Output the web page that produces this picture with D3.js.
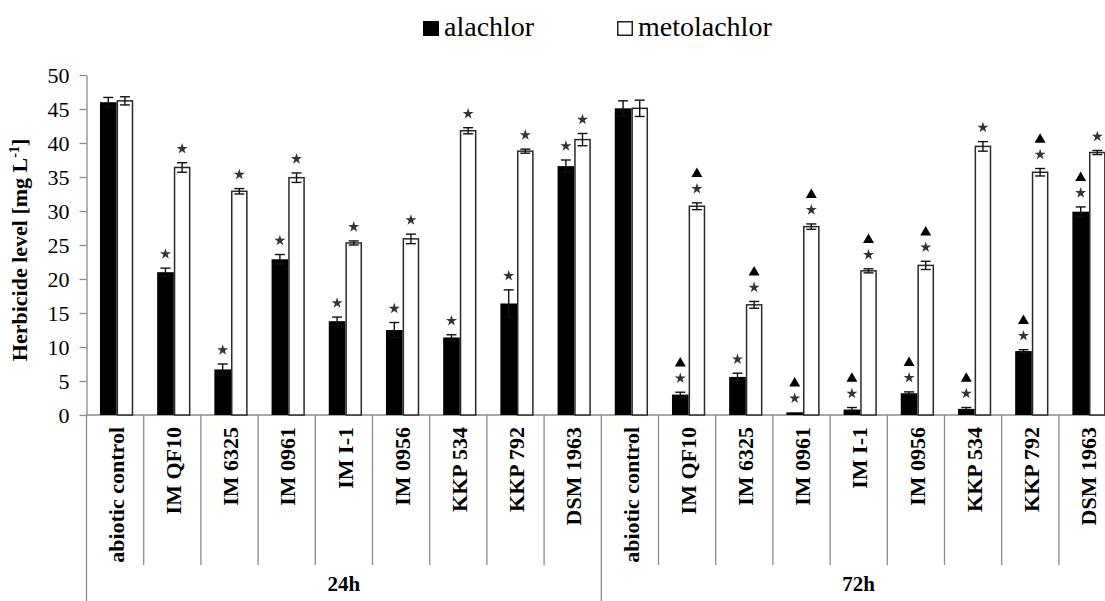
<!DOCTYPE html>
<html>
<head>
<meta charset="utf-8">
<script src="https://cdn.jsdelivr.net/npm/d3@7"></script>
<style>
  html, body { margin: 0; padding: 0; background: #fff; }
  svg { display: block; }
  svg text { font-family: "Liberation Serif", "Times New Roman", Times, "DejaVu Serif", serif; fill: #000; }
</style>
</head>
<body>
<svg id="chart" width="1105" height="601"></svg>
<script>
// Strains and sampling times
const categories = ["abiotic control", "IM QF10", "IM 6325", "IM 0961", "IM I-1", "IM 0956", "KKP 534", "KKP 792", "DSM 1963"];
const timePoints = ["24h", "72h"];
const seriesNames = ["alachlor", "metolachlor"];

// Residual herbicide level [mg L-1] with error bars
const alachlor24 = [46.0, 21.0, 6.7, 22.9, 13.8, 12.5, 11.4, 16.4, 36.6];
const alachlor24Err = [0.7, 0.6, 0.8, 0.7, 0.6, 1.1, 0.4, 2.0, 0.9];
const metolachlor24 = [46.2, 36.4, 32.9, 34.9, 25.3, 25.9, 41.8, 38.8, 40.5];
const metolachlor24Err = [0.6, 0.7, 0.4, 0.7, 0.3, 0.7, 0.45, 0.3, 0.9];
const alachlor72 = [45.1, 3.0, 5.6, 0.4, 0.8, 3.2, 0.9, 9.4, 29.9];
const alachlor72Err = [1.1, 0.35, 0.55, 0.0, 0.3, 0.2, 0.2, 0.2, 0.7];
const metolachlor72 = [45.1, 30.7, 16.2, 27.7, 21.2, 22.0, 39.5, 35.7, 38.6];
const metolachlor72Err = [1.2, 0.5, 0.5, 0.4, 0.3, 0.6, 0.7, 0.55, 0.3];

// Significance marks: "*" vs. abiotic control, "^" between 24h and 72h
const alachlor24Sig = ["", "*", "*", "*", "*", "*", "*", "*", "*"];
const metolachlor24Sig = ["", "*", "*", "*", "*", "*", "*", "*", "*"];
const alachlor72Sig = ["", "*^", "*", "*^", "*^", "*^", "*^", "*^", "*^"];
const metolachlor72Sig = ["", "*^", "*^", "*^", "*^", "*^", "*", "*^", "*"];

// Axis ticks
const yTicks = [0, 5, 10, 15, 20, 25, 30, 35, 40, 45, 50];

// Table built from the arrays above
const seriesTable = {
  "24h": { alachlor: [alachlor24, alachlor24Err, alachlor24Sig], metolachlor: [metolachlor24, metolachlor24Err, metolachlor24Sig] },
  "72h": { alachlor: [alachlor72, alachlor72Err, alachlor72Sig], metolachlor: [metolachlor72, metolachlor72Err, metolachlor72Sig] }
};
const rows = [];
timePoints.forEach(t => categories.forEach((c, i) => {
  seriesNames.forEach(s => {
    const [v, e, g] = seriesTable[t][s];
    rows.push({ key: t + "|" + c, time: t, cat: c, series: s, value: v[i], err: e[i], sig: g[i] });
  });
}));
const keys = [];
timePoints.forEach(t => categories.forEach(c => keys.push(t + "|" + c)));

const svg = d3.select("#chart");
const serif = "'Liberation Serif', 'Times New Roman', Times, 'DejaVu Serif', serif";
const axisColor = "#8a8a8a";
const plotLeft = 86.5, step = 57.2;
const plotTop = 75, plotBottom = 415;

const x0 = d3.scaleBand().domain(keys).range([plotLeft, plotLeft + step * keys.length]).padding(0);
const x1 = d3.scaleBand().domain(seriesNames).range([1.5, x0.bandwidth() + 1.5]).paddingInner(0).paddingOuter(0.72);
const y = d3.scaleLinear().domain([0, 50]).range([plotBottom, plotTop]);

// Y axis
const yAxis = svg.append("g")
  .attr("transform", `translate(${plotLeft},0)`)
  .call(d3.axisLeft(y).tickValues(yTicks).tickSize(7).tickPadding(10).tickSizeOuter(0))
  .attr("font-family", serif);
yAxis.select(".domain").attr("stroke", axisColor).attr("stroke-width", 1.3);
yAxis.selectAll(".tick line").attr("stroke", axisColor).attr("stroke-width", 1.3);
yAxis.selectAll(".tick text")
  .attr("font-family", serif)
  .attr("font-size", 22)
  .attr("fill", "#111");

// Y title
const yTitle = svg.append("text")
  .attr("transform", "translate(27,250) rotate(-90)")
  .attr("text-anchor", "middle")
  .attr("font-family", serif)
  .attr("font-weight", "bold")
  .attr("font-size", 22);
yTitle.append("tspan").text("Herbicide level [mg L");
yTitle.append("tspan").attr("font-size", 14).attr("dy", -8).text("-1");
yTitle.append("tspan").attr("dy", 8).text("]");

// Category axis baseline
svg.append("line")
  .attr("x1", plotLeft).attr("x2", x0.range()[1])
  .attr("y1", plotBottom).attr("y2", plotBottom)
  .attr("stroke", axisColor).attr("stroke-width", 1.3);

// Category separators (short) and group separators (long)
const boundaries = d3.range(keys.length + 1).map(i => plotLeft + i * step);
svg.append("g").selectAll("line")
  .data(boundaries)
  .join("line")
  .attr("x1", d => d).attr("x2", d => d)
  .attr("y1", plotBottom)
  .attr("y2", (d, i) => (i % categories.length === 0) ? 601 : 565)
  .attr("stroke", axisColor).attr("stroke-width", 1.3);

// Category labels
svg.append("g").selectAll("text")
  .data(keys)
  .join("text")
  .attr("transform", d => `translate(${x0(d) + x0.bandwidth() / 2 + 1},427) rotate(-90)`)
  .attr("text-anchor", "end")
  .attr("dy", "0.35em")
  .attr("font-family", serif)
  .attr("font-weight", "bold")
  .attr("font-size", 22)
  .text(d => d.split("|")[1]);

// Group labels
svg.append("g").selectAll("text")
  .data(timePoints)
  .join("text")
  .attr("x", t => (x0(t + "|" + categories[0]) + x0(t + "|" + categories[categories.length - 1]) + x0.bandwidth()) / 2)
  .attr("y", 591)
  .attr("text-anchor", "middle")
  .attr("font-family", serif)
  .attr("font-weight", "bold")
  .attr("font-size", 21)
  .text(t => t);

// Bars
const barX = d => x0(d.key) + x1(d.series);
svg.append("g").selectAll("rect")
  .data(rows)
  .join("rect")
  .attr("x", d => barX(d) + (d.series === "metolachlor" ? 0.75 : 0))
  .attr("y", d => y(d.value))
  .attr("width", d => x1.bandwidth() - (d.series === "metolachlor" ? 1.5 : 0))
  .attr("height", d => y(0) - y(d.value))
  .attr("fill", d => d.series === "alachlor" ? "#000" : "#fff")
  .attr("stroke", d => d.series === "alachlor" ? "none" : "#2a2a2a")
  .attr("stroke-width", 1.5);

// Error bars
const eb = svg.append("g").attr("stroke", "#111").attr("stroke-width", 1.4);
rows.filter(d => d.err > 0).forEach(d => {
  const cx = barX(d) + x1.bandwidth() / 2;
  const yt = y(d.value + d.err), yb = y(d.value - d.err);
  eb.append("line").attr("x1", cx).attr("x2", cx).attr("y1", yt).attr("y2", yb);
  eb.append("line").attr("x1", cx - 5).attr("x2", cx + 5).attr("y1", yt).attr("y2", yt);
  eb.append("line").attr("x1", cx - 5).attr("x2", cx + 5).attr("y1", yb).attr("y2", yb);
});

// Significance marks
const marks = svg.append("g");
const star = d3.symbol().type(d3.symbolStar).size(38);
const tri = d3.symbol().type(d3.symbolTriangle).size(52);
rows.filter(d => d.sig).forEach(d => {
  const cx = barX(d) + x1.bandwidth() / 2;
  const sy = y(d.value + d.err) - 14;
  if (d.sig.includes("*")) {
    marks.append("path").attr("d", star()).attr("transform", `translate(${cx},${sy})`).attr("fill", "#333");
  }
  if (d.sig.includes("^")) {
    marks.append("path").attr("d", tri()).attr("transform", `translate(${cx},${sy - 15})`).attr("fill", "#000");
  }
});

// Legend
const legend = svg.append("g");
const legendItems = [
  { name: "alachlor", x: 423, fill: "#000", stroke: "#000" },
  { name: "metolachlor", x: 617, fill: "#fff", stroke: "#222" }
];
legendItems.forEach(it => {
  legend.append("rect").attr("x", it.x + 0.75).attr("y", 21.75).attr("width", 14.5).attr("height", 13.5)
    .attr("fill", it.fill).attr("stroke", it.stroke).attr("stroke-width", 1.5);
  legend.append("text").attr("x", it.x + 21).attr("y", 36)
    .attr("font-family", serif).attr("font-size", 28).text(it.name);
});
</script>
</body>
</html>
